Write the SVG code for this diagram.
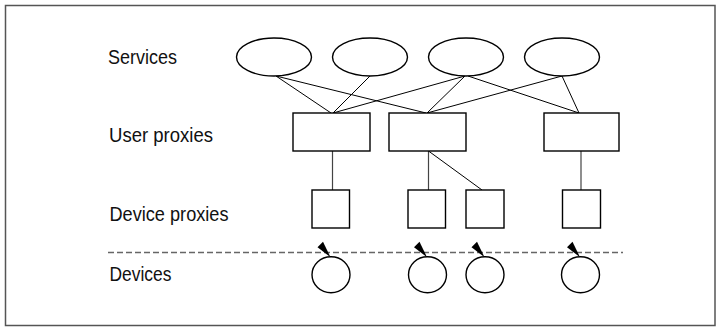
<svg xmlns="http://www.w3.org/2000/svg" width="716" height="327" viewBox="0 0 716 327">
  <style>
    .frame { fill: #ffffff; stroke: #555555; stroke-width: 1.5; }
    .shape { fill: #ffffff; stroke: #000000; stroke-width: 1.4; }
    .link { stroke: #000000; stroke-width: 1; fill: none; }
    .drop { stroke: #444444; stroke-width: 1.2; fill: none; }
    .label { font-family: "Liberation Sans", Arial, sans-serif; font-size: 20px; fill: #111111; }
    .boundary { stroke: #666666; stroke-width: 1.5; stroke-dasharray: 6 3; fill: none; }
    .wedge { fill: #000000; }
  </style>

  <rect class="frame" x="5.5" y="5.5" width="709.5" height="320"/>

  <!-- row labels -->
  <g id="labels">
    <text class="label" x="108" y="64" textLength="69" lengthAdjust="spacingAndGlyphs">Services</text>
    <text class="label" x="109" y="141.5" textLength="104" lengthAdjust="spacingAndGlyphs">User proxies</text>
    <text class="label" x="109.5" y="220.5" textLength="119" lengthAdjust="spacingAndGlyphs">Device proxies</text>
    <text class="label" x="109.5" y="281" textLength="62" lengthAdjust="spacingAndGlyphs">Devices</text>
  </g>

  <!-- boundary between proxies and physical devices -->
  <line class="boundary" x1="108" y1="252.5" x2="623" y2="252.5"/>

  <!-- connectors -->
  <g id="connectors">
    <line class="link" x1="276" y1="76" x2="331" y2="113"/>
    <line class="link" x1="276" y1="76" x2="426" y2="113"/>
    <line class="link" x1="370" y1="76" x2="333" y2="113"/>
    <line class="link" x1="465" y1="76" x2="333" y2="113"/>
    <line class="link" x1="465" y1="76" x2="427" y2="113"/>
    <line class="link" x1="468" y1="76" x2="579" y2="113"/>
    <line class="link" x1="562" y1="76" x2="427" y2="113"/>
    <line class="link" x1="562" y1="76" x2="579" y2="113"/>
    <line class="drop" x1="332.5" y1="151" x2="332.5" y2="190"/>
    <line class="drop" x1="428.5" y1="151" x2="428.5" y2="190"/>
    <line class="link" x1="428.5" y1="151" x2="482" y2="190"/>
    <line class="drop" x1="581" y1="151" x2="581" y2="190"/>
  </g>

  <!-- services -->
  <g id="service-1"><ellipse class="shape" cx="274" cy="57" rx="37.5" ry="19"/></g>
  <g id="service-2"><ellipse class="shape" cx="370" cy="57" rx="37.5" ry="19"/></g>
  <g id="service-3"><ellipse class="shape" cx="466" cy="57" rx="37.5" ry="19"/></g>
  <g id="service-4"><ellipse class="shape" cx="562" cy="57" rx="37.5" ry="19"/></g>

  <!-- user proxies -->
  <g id="user-proxy-1"><rect class="shape" x="293" y="113" width="77" height="38"/></g>
  <g id="user-proxy-2"><rect class="shape" x="389" y="113" width="77" height="38"/></g>
  <g id="user-proxy-3"><rect class="shape" x="544" y="113" width="75" height="38"/></g>

  <!-- device proxies -->
  <g id="device-proxy-1"><rect class="shape" x="312" y="190" width="37.5" height="38"/></g>
  <g id="device-proxy-2"><rect class="shape" x="408" y="190" width="37.5" height="38"/></g>
  <g id="device-proxy-3"><rect class="shape" x="466" y="190" width="38" height="38"/></g>
  <g id="device-proxy-4"><rect class="shape" x="562.5" y="190" width="38" height="38"/></g>

  <!-- devices: circle with an antenna wedge -->
  <defs>
    <g id="device">
      <ellipse class="shape" cx="0" cy="0" rx="19" ry="18"/>
      <polygon class="wedge" points="-13.5,-27.5 -8,-33 -0.5,-17.5"/>
    </g>
  </defs>
  <g id="device-1"><use href="#device" x="331" y="274.7"/></g>
  <g id="device-2"><use href="#device" x="427.5" y="274.7"/></g>
  <g id="device-3"><use href="#device" x="485" y="274.7"/></g>
  <g id="device-4"><use href="#device" x="580.5" y="274.7"/></g>
</svg>
